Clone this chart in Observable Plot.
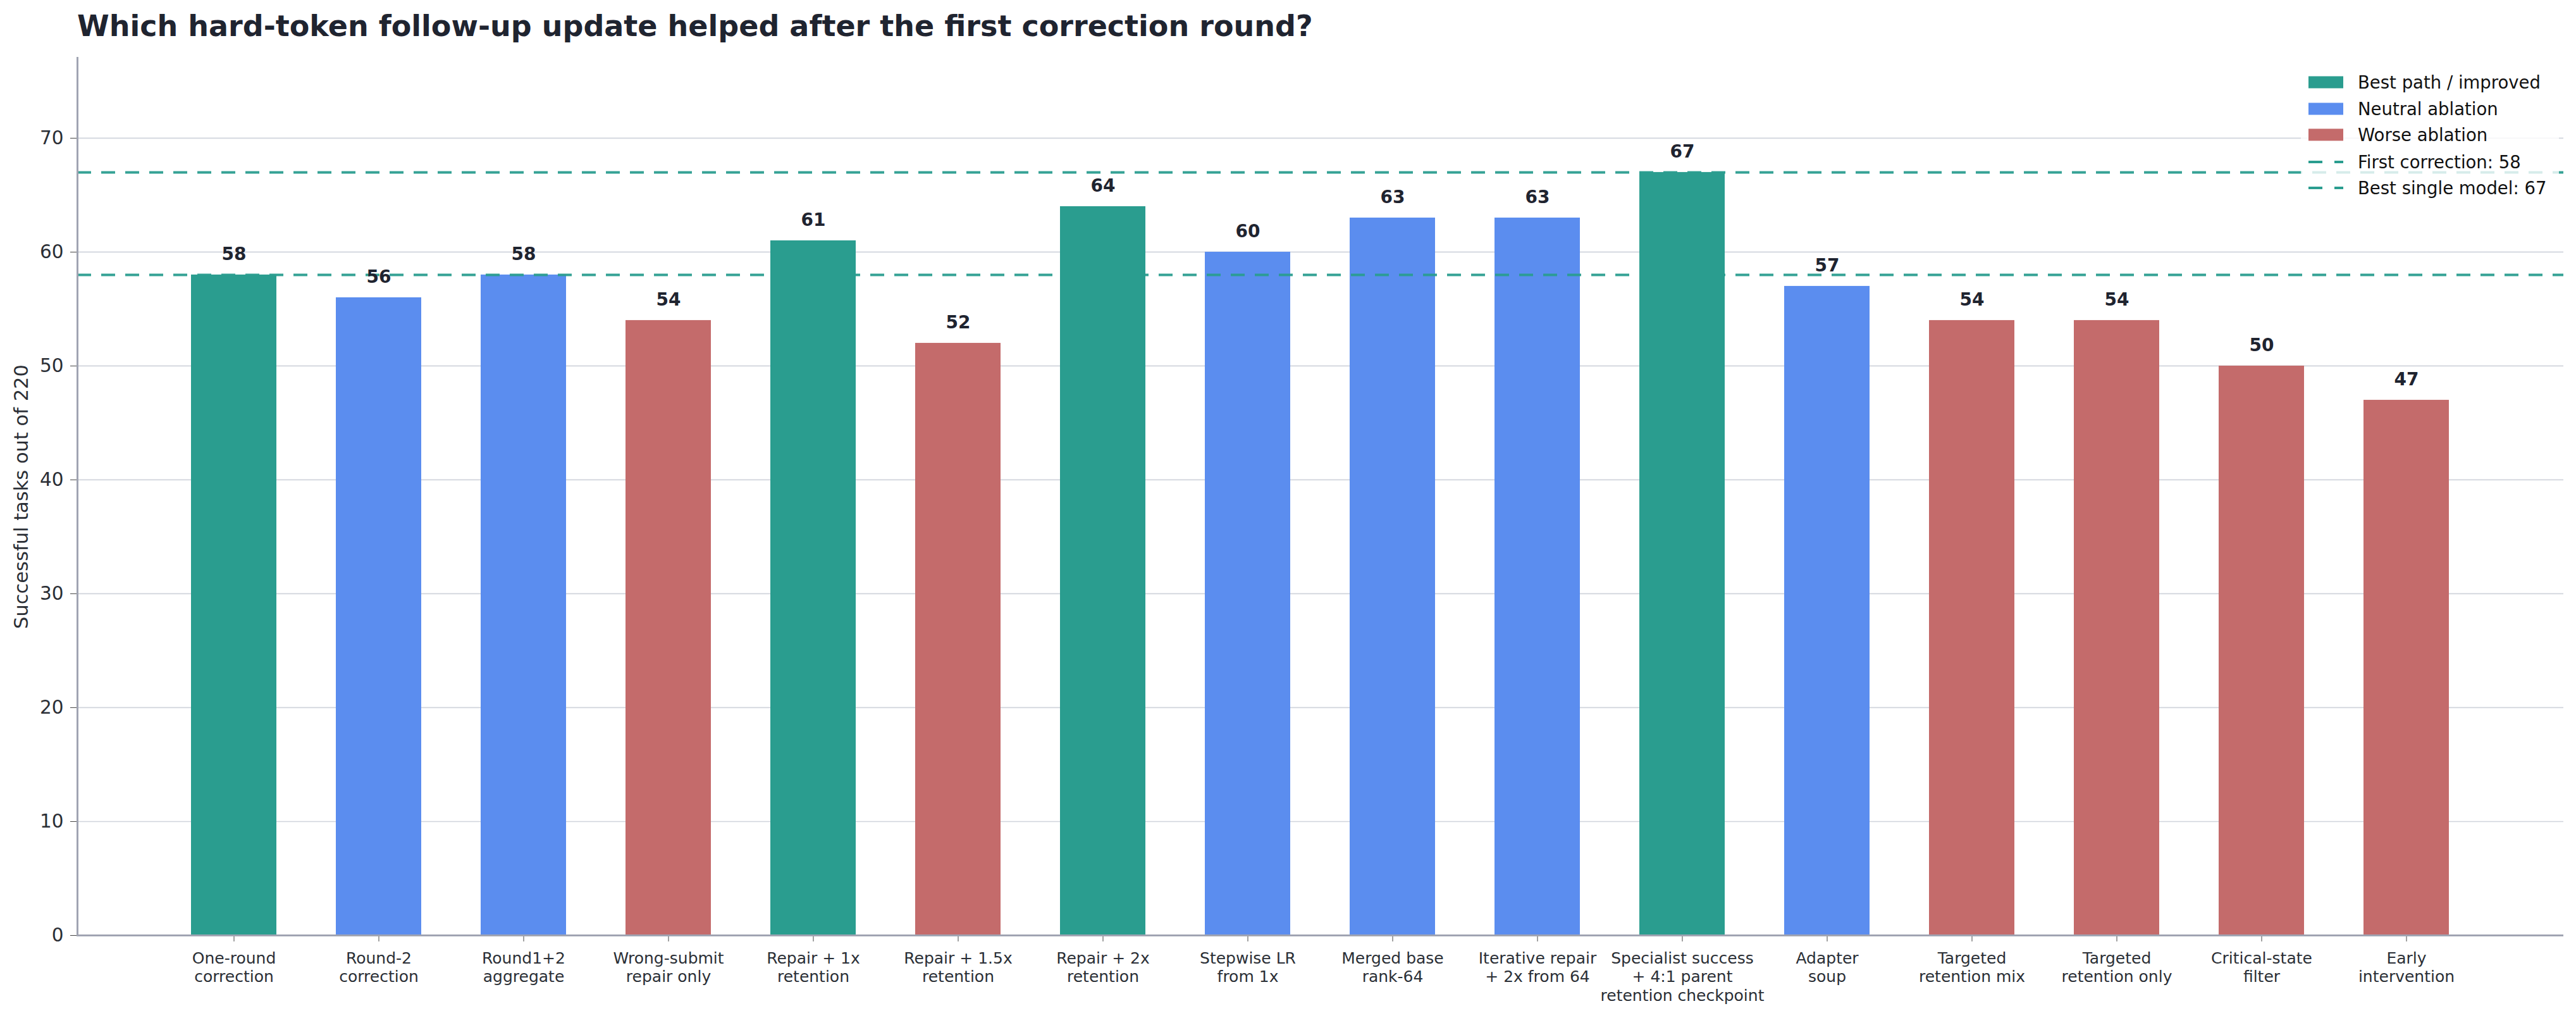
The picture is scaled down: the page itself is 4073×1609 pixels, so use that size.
<!DOCTYPE html>
<html>
<head>
<meta charset="utf-8">
<script src="https://cdn.jsdelivr.net/npm/d3@7"></script>
<script src="https://cdn.jsdelivr.net/npm/@observablehq/plot@0.6"></script>
<style>
  body { margin: 0; background: #fff; font-family: "DejaVu Sans", sans-serif; }
  #wrap { position: relative; width: 4073px; height: 1609px; overflow: hidden; }
  #title { height: 80px; box-sizing: border-box; padding: 18px 0 0 122px; font-size: 46px; line-height: 1;
           font-weight: bold; color: #1f2430; white-space: nowrap; }
  #legend { position: absolute; left: 3638px; top: 102px; width: 408px; height: 218px;
            background: rgba(255,255,255,0.8); }
  .item { position: absolute; left: 12px; height: 30px; display: flex; align-items: center;
          font-size: 27.5px; color: #111; white-space: nowrap; }
  .item svg { margin-right: 23px; flex: none; }
</style>
</head>
<body>
<div id="wrap">
  <div id="title">Which hard-token follow-up update helped after the first correction round?</div>
  <div id="chart"></div>
  <div id="legend"></div>
</div>
<script>
// Follow-up variants evaluated after the first correction round
const categories = [
  "One-round\ncorrection",
  "Round-2\ncorrection",
  "Round1+2\naggregate",
  "Wrong-submit\nrepair only",
  "Repair + 1x\nretention",
  "Repair + 1.5x\nretention",
  "Repair + 2x\nretention",
  "Stepwise LR\nfrom 1x",
  "Merged base\nrank-64",
  "Iterative repair\n+ 2x from 64",
  "Specialist success\n+ 4:1 parent\nretention checkpoint",
  "Adapter\nsoup",
  "Targeted\nretention mix",
  "Targeted\nretention only",
  "Critical-state\nfilter",
  "Early\nintervention"
];
const successes = [58, 56, 58, 54, 61, 52, 64, 60, 63, 63, 67, 57, 54, 54, 50, 47];
const outcomes = ["improved", "neutral", "neutral", "worse", "improved", "worse", "improved", "neutral",
                  "neutral", "neutral", "improved", "neutral", "worse", "worse", "worse", "worse"];

// Reference levels
const firstCorrection = 58;
const bestSingle = 67;

// Outcome groups and their colours
const groupKeys = ["improved", "neutral", "worse"];
const groupLabels = ["Best path / improved", "Neutral ablation", "Worse ablation"];
const groupColors = ["#2a9d8f", "#5b8def", "#c46b6b"];
const refLabels = [`First correction: ${firstCorrection}`, `Best single model: ${bestSingle}`];

const yTicks = [0, 10, 20, 30, 40, 50, 60, 70];
const yLabel = "Successful tasks out of 220";

const teal = "#2a9d8f";
const spine = "#a0a4b2";
const ink = "#1f2430";

const rows = categories.map((label, i) => ({label, value: successes[i], group: outcomes[i]}));

const chart = Plot.plot({
  width: 4073,
  height: 1529,
  marginLeft: 122,
  marginRight: 20,
  marginTop: 11,
  marginBottom: 131,
  style: {fontFamily: "DejaVu Sans, sans-serif", color: "#2b2f36", background: "white", overflow: "visible"},
  x: {domain: categories, paddingInner: 0.41, paddingOuter: 0.785, label: null},
  y: {domain: [0, bestSingle * 1.15], label: null},
  color: {domain: groupKeys, range: groupColors},
  marks: [
    Plot.gridY(yTicks, {stroke: "#d0d4dc", strokeOpacity: 1, strokeWidth: 1.7}),
    Plot.barY(rows, {x: "label", y: "value", fill: "group"}),
    Plot.ruleY([firstCorrection, bestSingle], {stroke: teal, strokeWidth: 4, strokeDasharray: "22,16", strokeOpacity: 0.95}),
    Plot.text(rows, {x: "label", y: "value", text: d => String(d.value), lineAnchor: "bottom", dy: -23,
                     fontSize: 28, fontWeight: "bold", fill: ink}),
    Plot.axisY(yTicks, {tickSize: 11, tickPadding: 11, fontSize: 29.5, label: null, stroke: "#444"}),
    Plot.axisX({tickSize: 10, tickFormat: () => "", label: null, stroke: "#444"}),
    Plot.text(categories, {x: d => d, text: d => d, frameAnchor: "bottom", lineAnchor: "top", dy: 22.7,
                           fontSize: 25, lineHeight: 1.2, fill: "#2b2f36"}),
    Plot.text([yLabel], {text: d => d, frameAnchor: "left", textAnchor: "middle", dx: -88, rotate: -90,
                         fontSize: 30.5, fill: "#2b2f36"}),
    Plot.ruleY([0], {stroke: spine, strokeWidth: 3}),
    Plot.frame({anchor: "left", stroke: spine, strokeWidth: 3})
  ]
});
document.getElementById("chart").appendChild(chart);

// Legend: outcome swatches followed by the two reference lines
const legend = d3.select("#legend");
const rowCenters = [28, 70, 111, 154, 195];
const entries = [
  ...groupLabels.map((label, i) => ({label, kind: "bar", color: groupColors[i]})),
  ...refLabels.map(label => ({label, kind: "line", color: teal}))
];
entries.forEach((e, i) => {
  const item = legend.append("div").attr("class", "item").style("top", (rowCenters[i] - 15) + "px");
  const svg = item.append("svg").attr("width", 55).attr("height", 20);
  if (e.kind === "bar") {
    svg.append("rect").attr("x", 0).attr("y", 0.5).attr("width", 55).attr("height", 19).attr("fill", e.color);
  } else {
    svg.append("line").attr("x1", 0).attr("x2", 55).attr("y1", 10).attr("y2", 10)
      .attr("stroke", e.color).attr("stroke-width", 4).attr("stroke-dasharray", "22,19");
  }
  item.append("span").text(e.label);
});
</script>
</body>
</html>
